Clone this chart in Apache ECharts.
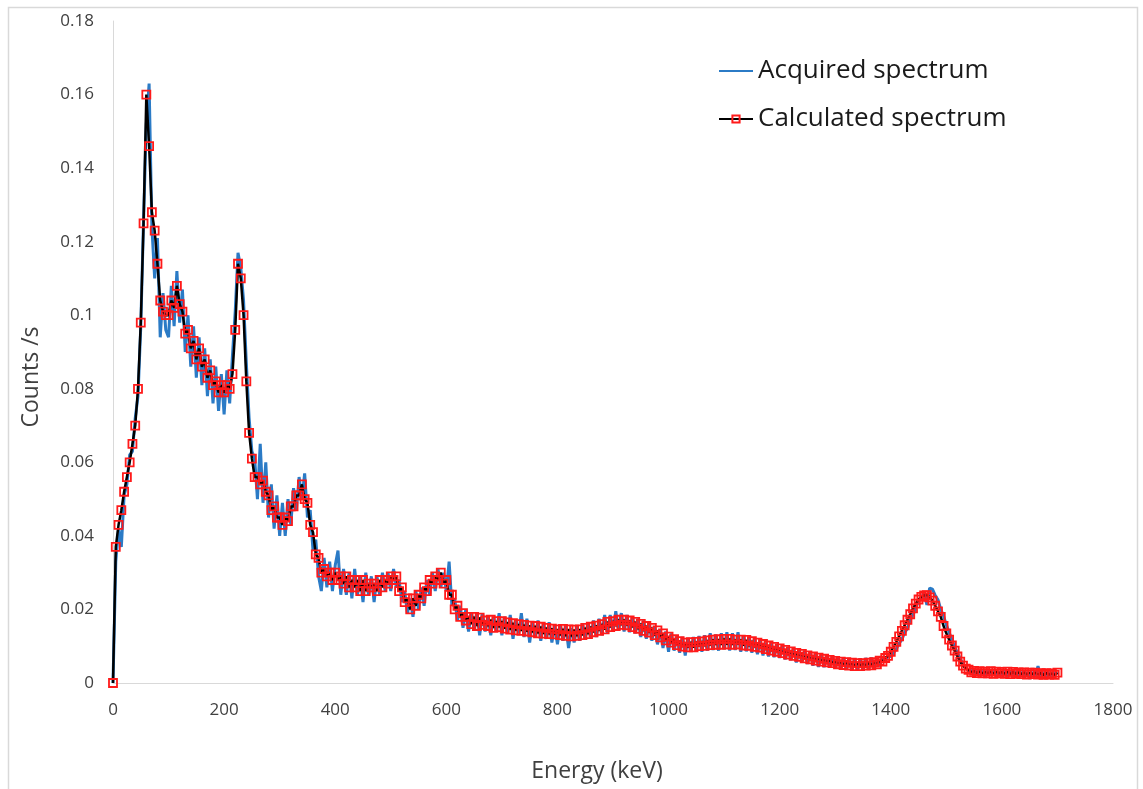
<!DOCTYPE html>
<html>
<head>
<meta charset="utf-8">
<title>Acquired vs calculated spectrum</title>
<script src="https://cdn.jsdelivr.net/npm/echarts@6.0.0/dist/echarts.min.js"></script>
<style>
  html, body { margin: 0; padding: 0; background: #fff; }
  #chart { width: 1143px; height: 789px; }
</style>
</head>
<body>
<div id="chart"></div>
<script>
// energy grid: one value every 5 keV, 0 .. 1700 keV
const ENERGY_STEP = 5;

// Calculated spectrum (counts/s)
const calculated = [
  0, 0.037, 0.043, 0.047, 0.052, 0.056, 0.060, 0.065, 0.070, 0.080, 0.098, 0.125, 0.160, 0.146, 0.128, 0.123, 0.114, 0.104, 0.101, 0.100,
  0.100, 0.104, 0.102, 0.108, 0.103, 0.101, 0.095, 0.096, 0.091, 0.093, 0.088, 0.091, 0.086, 0.088, 0.083, 0.085, 0.081, 0.082, 0.079, 0.081,
  0.079, 0.081, 0.080, 0.084, 0.096, 0.114, 0.110, 0.100, 0.082, 0.068, 0.061, 0.056, 0.056, 0.054, 0.055, 0.052, 0.051, 0.047, 0.048, 0.045,
  0.045, 0.043, 0.045, 0.044, 0.048, 0.048, 0.051, 0.051, 0.054, 0.050, 0.049, 0.043, 0.041, 0.035, 0.034, 0.030, 0.031, 0.029, 0.030, 0.028,
  0.030, 0.028, 0.029, 0.027, 0.029, 0.026, 0.028, 0.026, 0.028, 0.025, 0.028, 0.025, 0.027, 0.026, 0.027, 0.025, 0.028, 0.026, 0.028, 0.027,
  0.029, 0.028, 0.029, 0.025, 0.026, 0.022, 0.023, 0.020, 0.023, 0.021, 0.024, 0.023, 0.026, 0.025, 0.028, 0.027, 0.029, 0.028, 0.030, 0.027,
  0.028, 0.024, 0.024, 0.020, 0.021, 0.018, 0.019, 0.017, 0.018, 0.016, 0.018, 0.0155, 0.0178, 0.0158, 0.017, 0.0155, 0.0172, 0.015, 0.0168, 0.0152,
  0.0168, 0.0148, 0.0165, 0.0145, 0.0163, 0.0143, 0.016, 0.0142, 0.0158, 0.014, 0.0156, 0.0138, 0.0155, 0.0135, 0.0153, 0.0134, 0.015, 0.0133, 0.0148, 0.0132,
  0.0146, 0.013, 0.0147, 0.0128, 0.0146, 0.0127, 0.0145, 0.0128, 0.0146, 0.013, 0.015, 0.0133, 0.0153, 0.0138, 0.0156, 0.0142, 0.016, 0.0146, 0.0166, 0.0152,
  0.0168, 0.0155, 0.0172, 0.0158, 0.0172, 0.0157, 0.017, 0.0152, 0.0166, 0.0147, 0.0161, 0.0142, 0.0155, 0.0137, 0.015, 0.013, 0.0143, 0.0124, 0.0135, 0.0116,
  0.0126, 0.011, 0.0119, 0.0103, 0.0114, 0.0099, 0.011, 0.0097, 0.0111, 0.0097, 0.0112, 0.01, 0.0113, 0.0101, 0.0116, 0.0103, 0.0118, 0.0104, 0.0119, 0.0104,
  0.012, 0.0105, 0.012, 0.0104, 0.0118, 0.0105, 0.0118, 0.0102, 0.0117, 0.0101, 0.0114, 0.0098, 0.011, 0.0096, 0.0106, 0.0092, 0.0102, 0.0088, 0.0098, 0.0085,
  0.0094, 0.0081, 0.009, 0.0077, 0.0086, 0.0074, 0.0082, 0.0071, 0.0079, 0.0067, 0.0075, 0.0064, 0.0072, 0.0061, 0.0069, 0.0058, 0.0066, 0.0056, 0.0063, 0.0054,
  0.006, 0.0051, 0.0058, 0.0049, 0.0057, 0.0047, 0.0055, 0.0046, 0.0054, 0.0046, 0.0054, 0.0047, 0.0055, 0.0048, 0.0057, 0.0051, 0.0061, 0.0058, 0.0068, 0.0074,
  0.0085, 0.0098, 0.0112, 0.0127, 0.0142, 0.0157, 0.0172, 0.0187, 0.0203, 0.0216, 0.0227, 0.0234, 0.0238, 0.0239, 0.0233, 0.0224, 0.021, 0.0195, 0.018, 0.0155,
  0.0135, 0.0118, 0.0102, 0.0088, 0.0072, 0.0058, 0.0047, 0.0039, 0.0036, 0.0029, 0.0033, 0.0027, 0.0032, 0.0026, 0.0031, 0.0026, 0.0032, 0.0025, 0.0031, 0.0026,
  0.003, 0.0025, 0.0031, 0.0024, 0.003, 0.0025, 0.0029, 0.0024, 0.0029, 0.0023, 0.0028, 0.0024, 0.0028, 0.0023, 0.0027, 0.0022, 0.0027, 0.0023, 0.0026, 0.0022,
  0.0028
];

// Acquired spectrum (counts/s), noisy measurement
const acquired = [
  0, 0.033, 0.042, 0.037, 0.051, 0.054, 0.062, 0.063, 0.072, 0.078, 0.097, 0.126, 0.152, 0.163, 0.124, 0.110, 0.121, 0.094, 0.106, 0.096,
  0.094, 0.108, 0.097, 0.112, 0.098, 0.107, 0.090, 0.100, 0.086, 0.097, 0.083, 0.094, 0.081, 0.091, 0.078, 0.088, 0.076, 0.086, 0.074, 0.084,
  0.073, 0.085, 0.076, 0.089, 0.101, 0.117, 0.113, 0.104, 0.087, 0.072, 0.063, 0.061, 0.050, 0.065, 0.049, 0.060, 0.045, 0.054, 0.042, 0.051,
  0.040, 0.049, 0.040, 0.050, 0.043, 0.053, 0.047, 0.056, 0.050, 0.057, 0.045, 0.047, 0.036, 0.039, 0.029, 0.025, 0.034, 0.026, 0.033, 0.025,
  0.032, 0.036, 0.024, 0.031, 0.024, 0.030, 0.023, 0.031, 0.024, 0.029, 0.022, 0.030, 0.024, 0.029, 0.022, 0.029, 0.024, 0.030, 0.025, 0.030,
  0.025, 0.031, 0.026, 0.028, 0.022, 0.025, 0.019, 0.023, 0.018, 0.025, 0.020, 0.026, 0.021, 0.028, 0.024, 0.030, 0.025, 0.031, 0.026, 0.030,
  0.025, 0.033, 0.021, 0.023, 0.017, 0.021, 0.015, 0.020, 0.014, 0.019, 0.015, 0.019, 0.013, 0.019, 0.014, 0.018, 0.013, 0.018, 0.014, 0.019,
  0.013, 0.018, 0.0135, 0.0185, 0.012, 0.017, 0.0135, 0.019, 0.0125, 0.0175, 0.011, 0.0165, 0.0125, 0.017, 0.0115, 0.016, 0.012, 0.0165, 0.011, 0.0155,
  0.0105, 0.016, 0.0115, 0.0155, 0.0095, 0.015, 0.011, 0.0155, 0.0115, 0.016, 0.012, 0.0165, 0.012, 0.017, 0.0125, 0.0175, 0.013, 0.0185, 0.0135, 0.0185,
  0.014, 0.0195, 0.0145, 0.019, 0.014, 0.0185, 0.0138, 0.018, 0.0135, 0.0175, 0.0125, 0.017, 0.012, 0.0165, 0.0115, 0.0155, 0.0105, 0.0145, 0.0095, 0.014,
  0.0085, 0.0135, 0.0088, 0.0128, 0.0082, 0.0125, 0.0075, 0.0122, 0.0085, 0.0125, 0.0088, 0.0128, 0.0085, 0.013, 0.0088, 0.0135, 0.009, 0.0132, 0.0088, 0.0135,
  0.0092, 0.0138, 0.0088, 0.0135, 0.009, 0.0138, 0.0085, 0.013, 0.0086, 0.0125, 0.0082, 0.0122, 0.0078, 0.0115, 0.0075, 0.011, 0.0072, 0.0108, 0.007, 0.0105,
  0.0068, 0.0102, 0.0064, 0.0098, 0.0062, 0.0094, 0.0056, 0.0092, 0.0056, 0.0088, 0.0052, 0.0085, 0.0047, 0.0079, 0.0044, 0.0078, 0.0043, 0.0074, 0.0042, 0.0073,
  0.0039, 0.0071, 0.0037, 0.0068, 0.0036, 0.0067, 0.0034, 0.0066, 0.0035, 0.0067, 0.0036, 0.0068, 0.0038, 0.0069, 0.004, 0.0068, 0.0045, 0.0072, 0.006, 0.0074,
  0.0072, 0.0082, 0.0092, 0.0108, 0.0118, 0.0138, 0.0148, 0.0172, 0.0185, 0.0205, 0.0222, 0.0232, 0.0246, 0.0212, 0.0258, 0.0255, 0.0238, 0.0226, 0.02, 0.0182,
  0.0158, 0.0138, 0.0118, 0.0098, 0.0082, 0.0066, 0.0052, 0.0042, 0.0034, 0.0034, 0.0022, 0.0034, 0.002, 0.0033, 0.0019, 0.0034, 0.0021, 0.0033, 0.0018, 0.0032,
  0.002, 0.0033, 0.0017, 0.0032, 0.0019, 0.0031, 0.0014, 0.003, 0.0016, 0.0029, 0.0012, 0.003, 0.0018, 0.0046, 0.0017, 0.0029, 0.0015, 0.003, 0.0018, 0.0029,
  0.0024
];

const seriesNames = ["Acquired spectrum", "Calculated spectrum"];
const xTicks = { min: 0, max: 1800, interval: 200 };
const yTicks = { min: 0, max: 0.18, interval: 0.02 };
const xTitle = "Energy (keV)";
const yTitle = "Counts /s";

const toPairs = (values) => values.map((v, i) => [i * ENERGY_STEP, v]);

const FONT = "'Open Sans', 'Noto Sans', sans-serif";
const AXIS_GRAY = "#d9d9d9";
const LABEL_COLOR = "#404040";
const BLUE = "#2b7bc6";

const chart = echarts.init(document.getElementById("chart"), null, { renderer: "canvas" });

chart.setOption({
  animation: false,
  backgroundColor: "#fff",
  textStyle: { fontFamily: FONT },
  grid: { left: 113, right: 30, top: 21, bottom: 106 },
  legend: {
    orient: "vertical",
    left: 718,
    top: 55,
    padding: 0,
    itemWidth: 34,
    itemHeight: 9,
    itemGap: 16,
    data: [
      { name: seriesNames[0], itemStyle: { opacity: 0 } },
      { name: seriesNames[1] },
    ],
    textStyle: { fontSize: 26, lineHeight: 32, color: "#1a1a1a", fontFamily: FONT },
  },
  xAxis: {
    type: "value",
    min: xTicks.min,
    max: xTicks.max,
    interval: xTicks.interval,
    axisLine: { show: true, lineStyle: { color: AXIS_GRAY, width: 1 } },
    axisTick: { show: false },
    splitLine: { show: false },
    axisLabel: { color: LABEL_COLOR, fontSize: 17, margin: 19, formatter: (v) => String(v) },
  },
  yAxis: {
    type: "value",
    min: yTicks.min,
    max: yTicks.max,
    interval: yTicks.interval,
    axisLine: { show: true, lineStyle: { color: AXIS_GRAY, width: 1 } },
    axisTick: { show: false },
    splitLine: { show: false },
    axisLabel: {
      color: LABEL_COLOR,
      fontSize: 17,
      margin: 19,
      formatter: (v) => (v === 0 ? "0" : String(+v.toFixed(2))),
    },
  },
  graphic: [
    {
      type: "rect",
      silent: true,
      shape: { x: 8.5, y: 7.5, width: 1129, height: 800 },
      style: { fill: "none", stroke: AXIS_GRAY, lineWidth: 1.5 },
    },
    // axis titles
    {
      type: "text",
      silent: true,
      x: 597,
      y: 771,
      style: { text: xTitle, font: "23px " + FONT, fill: LABEL_COLOR, align: "center", verticalAlign: "middle" },
    },
    {
      type: "text",
      silent: true,
      x: 31,
      y: 377,
      rotation: Math.PI / 2,
      style: { text: yTitle, font: "23px " + FONT, fill: LABEL_COLOR, align: "center", verticalAlign: "middle" },
    },
  ],
  series: [
    {
      name: seriesNames[0],
      type: "line",
      data: toPairs(acquired),
      symbol: "none",
      lineStyle: { color: BLUE, width: 3 },
      itemStyle: { color: BLUE },
      emphasis: { disabled: true },
      z: 2,
    },
    {
      name: seriesNames[1],
      type: "line",
      data: toPairs(calculated),
      symbol: "rect",
      symbolSize: 8,
      showSymbol: true,
      showAllSymbol: true,
      lineStyle: { color: "#000", width: 2.5 },
      itemStyle: { color: "rgba(255,255,255,0)", borderColor: "#ff1a1a", borderWidth: 1.8 },
      emphasis: { disabled: true },
      z: 3,
    },
  ],
});
</script>
</body>
</html>
